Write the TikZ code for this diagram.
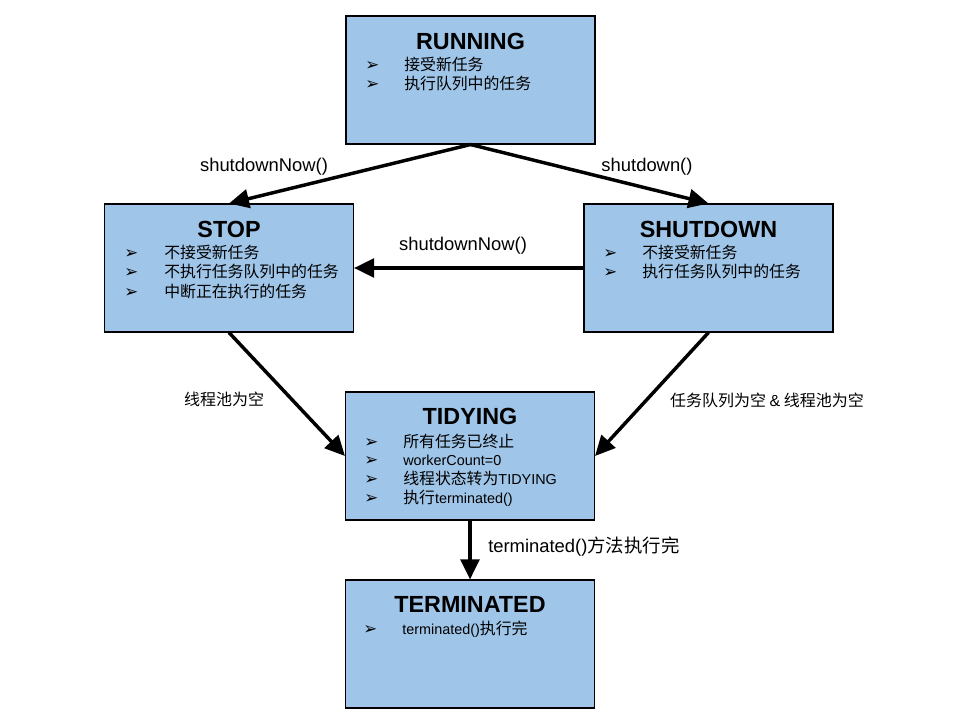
\documentclass[tikz,border=0pt]{standalone}
\usepackage{fontspec}
\setmainfont{Liberation Sans}
\newfontfamily\cjk{Noto Sans CJK SC}
\newfontfamily\dv{DejaVu Sans}
\usetikzlibrary{arrows.meta}
\definecolor{boxblue}{HTML}{9FC5E8}
\newcommand{\ck}[1]{{\cjk\fontsize{11.9}{14}\selectfont #1}}
\begin{document}
\begin{tikzpicture}[x=0.75pt,y=-0.75pt,
  state/.style={draw=black, line width=0.8pt, fill=boxblue, minimum width=186.75pt, minimum height=96pt, inner sep=0pt},
  ttl/.style={font=\bfseries\fontsize{17.5}{20}\selectfont, inner sep=0pt},
  bul/.style={font=\dv\fontsize{12.5}{14}\selectfont, anchor=west, inner sep=0pt, text height=9.5pt, text depth=0.5pt},
  txt/.style={font=\fontsize{10.8}{12}\selectfont, anchor=west, inner sep=0pt, text height=9.5pt, text depth=0.5pt},
  lbl/.style={font=\fontsize{13.8}{16}\selectfont, inner sep=0pt},
  clbl/.style={font=\cjk\fontsize{12}{14}\selectfont, inner sep=0pt},
  arr/.style={line width=2.6pt, -{Triangle[length=15pt,width=14pt]}},
]
\useasboundingbox (0,0) rectangle (960,720);
\fill[white] (0,0) rectangle (960,720);

% boxes
\node[state] (run) at (470.5,80) {};
\node[state] (stop) at (229,268) {};
\node[state] (shut) at (708.5,268) {};
\node[state] (tidy) at (470,456) {};
\node[state] (term) at (470,644) {};

% RUNNING
\node[ttl] (runT) at (470.5,41) {RUNNING};
\node[bul] (runB1) at (365,65) {➢};
\node[txt] (runL1) at (404,65) {\ck{接受新任务}};
\node[bul] (runB2) at (365,84) {➢};
\node[txt] (runL2) at (404,84) {\ck{执行队列中的任务}};

% STOP
\node[ttl] (stopT) at (229,229) {STOP};
\node[bul] (stopB1) at (124,253) {➢};
\node[txt] (stopL1) at (164,253) {\ck{不接受新任务}};
\node[bul] (stopB2) at (124,272) {➢};
\node[txt] (stopL2) at (164,272) {\ck{不执行任务队列中的任务}};
\node[bul] (stopB3) at (124,291) {➢};
\node[txt] (stopL3) at (164,291) {\ck{中断正在执行的任务}};

% SHUTDOWN
\node[ttl] (shutT) at (708.5,229) {SHUTDOWN};
\node[bul] (shutB1) at (603,253) {➢};
\node[txt] (shutL1) at (642,253) {\ck{不接受新任务}};
\node[bul] (shutB2) at (603,272) {➢};
\node[txt] (shutL2) at (642,272) {\ck{执行任务队列中的任务}};

% TIDYING
\node[ttl] (tidyT) at (470,416) {TIDYING};
\node[bul] (tidyB1) at (364,441) {➢};
\node[txt] (tidyL1) at (403,441) {\ck{所有任务已终止}};
\node[bul] (tidyB2) at (364,459) {➢};
\node[txt] (tidyL2) at (403,459) {workerCount=0};
\node[bul] (tidyB3) at (364,478) {➢};
\node[txt] (tidyL3) at (403,478) {\ck{线程状态转为}TIDYING};
\node[bul] (tidyB4) at (364,497) {➢};
\node[txt] (tidyL4) at (403,497) {\ck{执行}terminated()};

% TERMINATED
\node[ttl] (termT) at (470,604) {TERMINATED};
\node[bul] (termB1) at (363,628) {➢};
\node[txt] (termL1) at (402,628) {terminated()\ck{执行完}};

% arrows
\draw[arr] (run.south) -- (stop.north);
\draw[arr] (run.south) -- (shut.north);
\draw[arr] (shut.west) -- (stop.east);
\draw[arr] (stop.south) -- (tidy.west);
\draw[arr] (shut.south) -- (tidy.east);
\draw[arr] (tidy.south) -- (term.north);

% labels
\node[lbl] (l1) at (264,167) {shutdownNow()};
\node[lbl] (l2) at (647,167) {shutdown()};
\node[lbl] (l3) at (463,246) {shutdownNow()};
\node[clbl] (l4) at (224,399) {线程池为空};
\node[clbl] (l5) at (767,400) {任务队列为空 {\fontspec{Liberation Sans}\&} 线程池为空};
\node[lbl, anchor=west] (l6) at (488,547) {terminated(){\cjk\fontsize{13.8}{16}\selectfont 方法执行完}};
\end{tikzpicture}
\end{document}
